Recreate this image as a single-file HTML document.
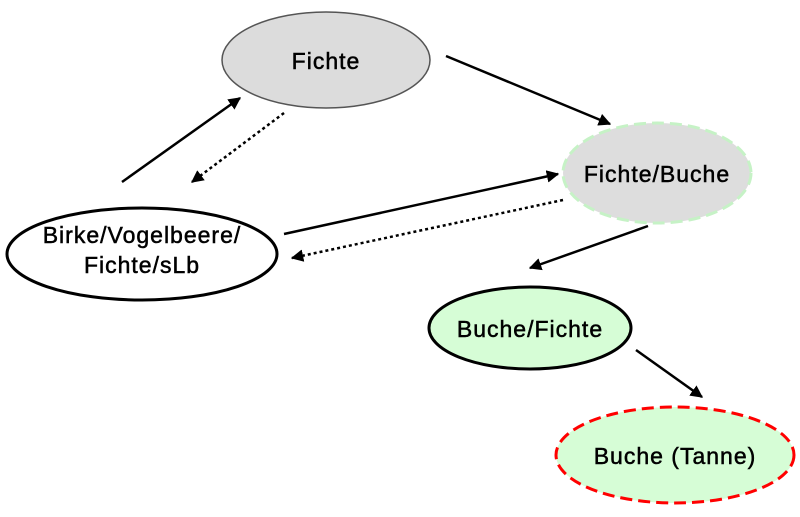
<!DOCTYPE html>
<html><head><meta charset="utf-8"><style>body{margin:0;background:#fff}text{stroke:#000;stroke-width:0.5}</style></head><body>
<svg width="800" height="512" viewBox="0 0 800 512" xmlns="http://www.w3.org/2000/svg" font-family="Liberation Sans, Arial, sans-serif">
<defs>
<marker id="a" viewBox="0 0 10 10" refX="9" refY="5" markerWidth="5" markerHeight="5" orient="auto"><path d="M0,0L10,5L0,10z" fill="#000"/></marker>
</defs>
<ellipse cx="326" cy="60" rx="104" ry="48" fill="#dcdcdc" stroke="#555" stroke-width="1.5"/>
<text x="326" y="69" font-size="23" letter-spacing="1" text-anchor="middle">Fichte</text>
<ellipse cx="657" cy="173" rx="94" ry="50" fill="#dddddd" stroke="#c6f2c6" stroke-width="3" stroke-dasharray="12,6"/>
<text x="657" y="182" font-size="23" letter-spacing="1" text-anchor="middle">Fichte/Buche</text>
<ellipse cx="142" cy="254" rx="135" ry="46" fill="#fff" stroke="#000" stroke-width="3"/>
<text x="142" y="243" font-size="23" letter-spacing="1" text-anchor="middle">Birke/Vogelbeere/</text>
<text x="142" y="273" font-size="23" letter-spacing="1" text-anchor="middle">Fichte/sLb</text>
<ellipse cx="530" cy="328" rx="101" ry="41" fill="#d6fdd6" stroke="#000" stroke-width="3"/>
<text x="530" y="337" font-size="23" letter-spacing="1" text-anchor="middle">Buche/Fichte</text>
<ellipse cx="675" cy="455" rx="119" ry="48" fill="#d6fdd6" stroke="#f00" stroke-width="3" stroke-dasharray="12,6"/>
<text x="675" y="464" font-size="23" letter-spacing="1" text-anchor="middle">Buche (Tanne)</text>
<g stroke="#000" stroke-width="2.5" fill="none" marker-end="url(#a)">
<line x1="122" y1="182" x2="240" y2="98"/>
<line x1="284" y1="113" x2="192" y2="182" stroke-dasharray="3,3"/>
<line x1="446" y1="56" x2="610" y2="124"/>
<line x1="284" y1="234" x2="558" y2="174"/>
<line x1="563" y1="200" x2="292" y2="258" stroke-dasharray="3,3"/>
<line x1="648" y1="226" x2="530" y2="268"/>
<line x1="636" y1="350" x2="702" y2="397"/>
</g>
</svg>
</body></html>
